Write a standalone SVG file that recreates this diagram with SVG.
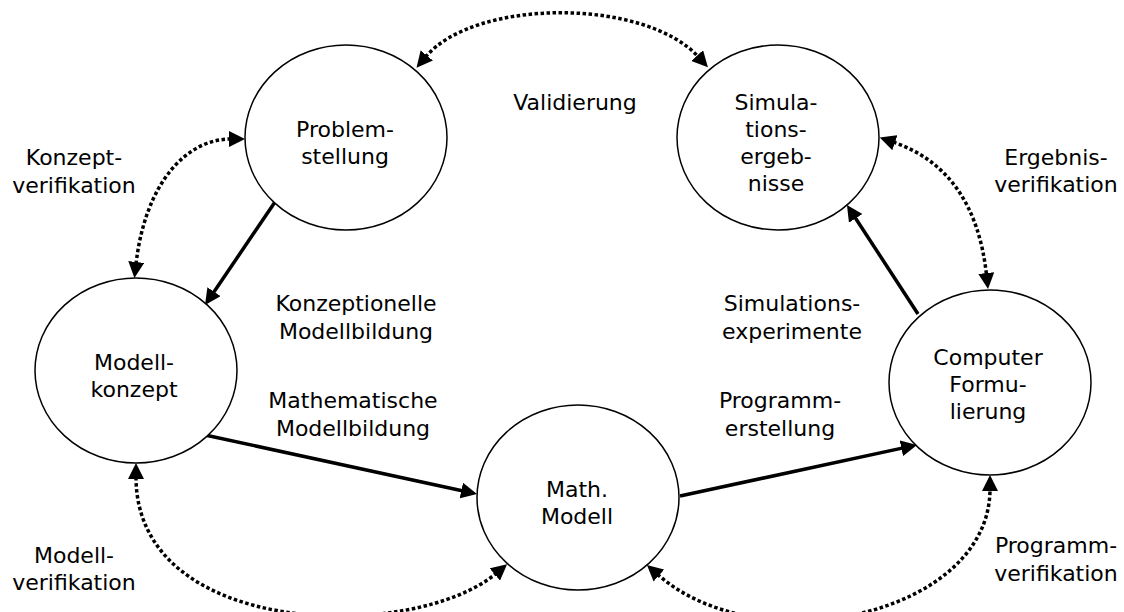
<svg xmlns="http://www.w3.org/2000/svg" width="1124" height="612" viewBox="0 0 1124 612">
<style>
  .node { fill: #ffffff; stroke: #000000; stroke-width: 1.5; }
  .t { font-family: "DejaVu Sans", Verdana, sans-serif; font-size: 22px; fill: #000000; text-anchor: middle; }
  .solid { fill: none; stroke: #000000; stroke-width: 3.5; marker-end: url(#ah); }
  .dot { fill: none; stroke: #000000; stroke-width: 3.5; stroke-dasharray: 3.5 2.5; marker-start: url(#ah); marker-end: url(#ah); }
</style>
<defs>
  <marker id="ah" viewBox="0 0 16 16" markerWidth="16" markerHeight="16" refX="2" refY="8" orient="auto-start-reverse" markerUnits="userSpaceOnUse">
    <path d="M0,0 L16,8 L0,16 z" fill="#000000"/>
  </marker>
</defs>
<rect width="1124" height="612" fill="#ffffff"/>

<g id="connectors">
  <path class="solid" d="M275,202 L212.9,293.4"/>
  <path class="solid" d="M205,435 L463.3,491"/>
  <path class="solid" d="M680,496 L903.3,447.9"/>
  <path class="solid" d="M918,314 L854.6,216.7"/>
  <path class="dot" d="M425.5,57 C475,-2 645,-2 698.5,57"/>
  <path class="dot" d="M231,139 C185,139 145,185 136,264"/>
  <path class="dot" d="M893,142 Q975,170 986.5,275"/>
  <path class="dot" d="M136,477 C136,640 415,642 496.4,573.2"/>
  <path class="dot" d="M657.4,574.3 C760,665 990,615 990,489"/>
</g>

<g id="problemstellung">
  <ellipse class="node" cx="346" cy="137.5" rx="101" ry="92.5"/>
  <text class="t" x="345" y="137">Problem-</text>
  <text class="t" x="345" y="164">stellung</text>
</g>
<g id="simulationsergebnisse">
  <ellipse class="node" cx="778" cy="137.5" rx="101" ry="92.5"/>
  <text class="t" x="776" y="110">Simula-</text>
  <text class="t" x="776" y="137">tions-</text>
  <text class="t" x="776" y="164">ergeb-</text>
  <text class="t" x="776" y="191">nisse</text>
</g>
<g id="modellkonzept">
  <ellipse class="node" cx="136" cy="370.5" rx="101" ry="92.5"/>
  <text class="t" x="134" y="370">Modell-</text>
  <text class="t" x="134" y="397">konzept</text>
</g>
<g id="mathmodell">
  <ellipse class="node" cx="578" cy="497.5" rx="101" ry="92.5"/>
  <text class="t" x="577" y="497">Math.</text>
  <text class="t" x="577" y="524">Modell</text>
</g>
<g id="computerformulierung">
  <ellipse class="node" cx="990" cy="382.5" rx="101" ry="92.5"/>
  <text class="t" x="988" y="365">Computer</text>
  <text class="t" x="988" y="392">Formu-</text>
  <text class="t" x="988" y="419">lierung</text>
</g>

<g id="labels">
  <text class="t" x="575" y="110">Validierung</text>
  <text class="t" x="74" y="165">Konzept-</text>
  <text class="t" x="74" y="193">verifikation</text>
  <text class="t" x="1056" y="165">Ergebnis-</text>
  <text class="t" x="1056" y="192">verifikation</text>
  <text class="t" x="356" y="311">Konzeptionelle</text>
  <text class="t" x="356" y="339">Modellbildung</text>
  <text class="t" x="792" y="311">Simulations-</text>
  <text class="t" x="792" y="339">experimente</text>
  <text class="t" x="353" y="408">Mathematische</text>
  <text class="t" x="353" y="436">Modellbildung</text>
  <text class="t" x="780" y="408">Programm-</text>
  <text class="t" x="780" y="436">erstellung</text>
  <text class="t" x="74" y="563">Modell-</text>
  <text class="t" x="74" y="590">verifikation</text>
  <text class="t" x="1056" y="553">Programm-</text>
  <text class="t" x="1056" y="581">verifikation</text>
</g>
</svg>
